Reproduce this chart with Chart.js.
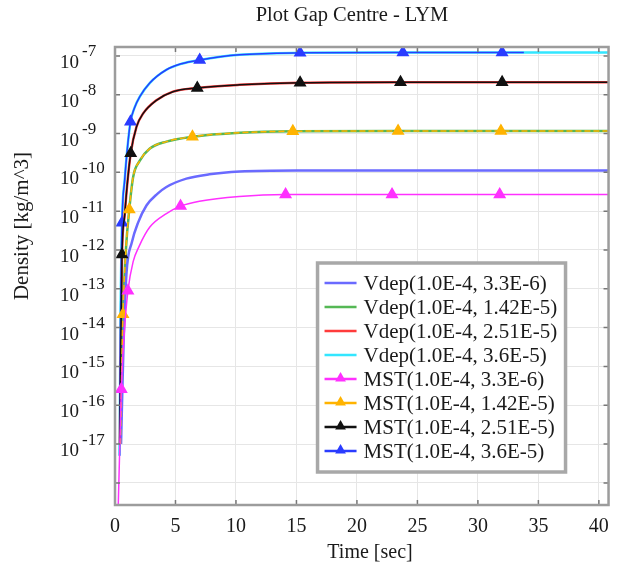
<!DOCTYPE html>
<html><head><meta charset="utf-8">
<script src="https://cdn.jsdelivr.net/npm/chart.js@4/dist/chart.umd.min.js"></script>
<style>html,body{margin:0;padding:0;background:#fff}#wrap{width:619px;height:568px}</style>
</head><body><div id="wrap"><canvas id="c" width="619" height="568"></canvas></div>
<script>
// ---------- text ----------
const titleText = 'Plot Gap Centre - LYM';
const xTitle = 'Time [sec]';
const yTitle = 'Density [kg/m^3]';
const xTicks = [0, 5, 10, 15, 20, 25, 30, 35, 40];
const yDecades = [-7, -8, -9, -10, -11, -12, -13, -14, -15, -16, -17, -18];
const yLabelled = [-7, -8, -9, -10, -11, -12, -13, -14, -15, -16, -17];
const labels = ['Vdep(1.0E-4, 3.3E-6)', 'Vdep(1.0E-4, 1.42E-5)', 'Vdep(1.0E-4, 2.51E-5)', 'Vdep(1.0E-4, 3.6E-5)',
                'MST(1.0E-4, 3.3E-6)', 'MST(1.0E-4, 1.42E-5)', 'MST(1.0E-4, 2.51E-5)', 'MST(1.0E-4, 3.6E-5)'];

// ---------- data (time [s], density [kg/m^3]) ----------
const tVdep33 = [0.5, 0.7, 0.95, 1.4, 1.9, 2.6, 3.5, 4.25, 5.9, 7.8, 10.3, 15, 25, 40.8];
const dVdep33 = [1e-17, 3.2e-15, 2.5e-13, 1.6e-12, 5.0e-12, 1.4e-11, 2.8e-11, 4.2e-11, 6.9e-11, 8.9e-11, 1.05e-10, 1.12e-10, 1.12e-10, 1.12e-10];

const tVdep142 = [0.45, 0.55, 0.66, 0.9, 1.18, 1.5, 2.05, 2.88, 4.25, 6.4, 10.3, 14.7, 23.4, 31.9, 40.8];
const dVdep142 = [1.0e-17, 6.3e-16, 2.2e-14, 1.0e-12, 1.1e-11, 7.6e-11, 2.0e-10, 4.1e-10, 6.2e-10, 8.3e-10, 1.05e-9, 1.15e-9, 1.17e-9, 1.17e-9, 1.17e-9];

const tVdep251 = [0.4, 0.48, 0.58, 0.8, 1.0, 1.3, 1.78, 2.33, 3.42, 4.79, 6.8, 10.3, 15.3, 23.6, 32.0, 40.8];
const dVdep251 = [1.0e-17, 3.2e-15, 7.6e-13, 7.9e-12, 4.5e-11, 3.1e-10, 1.5e-9, 3.3e-9, 7.2e-9, 1.2e-8, 1.5e-8, 1.8e-8, 2.04e-8, 2.1e-8, 2.1e-8, 2.1e-8];

const tVdep36 = [0.38, 0.45, 0.58, 0.8, 1.0, 1.28, 1.6, 2.05, 2.87, 4.25, 5.5, 7.0, 10.3, 15.3, 23.8, 32.0, 40.8];
const dVdep36 = [5.0e-18, 1.0e-14, 5.0e-12, 6.3e-11, 3.5e-10, 2.0e-9, 4.5e-9, 8.9e-9, 2.0e-8, 4.4e-8, 6.3e-8, 7.9e-8, 1.07e-7, 1.2e-7, 1.23e-7, 1.23e-7, 1.23e-7];

const tMst33 = [0.27, 0.4, 0.52, 0.8, 1.07, 1.5, 2.0, 2.88, 4.25, 5.42, 6.98, 10.27, 14.1, 22.9, 31.8, 40.8];
const dMst33 = [2.7e-19, 1e-17, 2.6e-16, 1e-14, 8.9e-14, 5.0e-13, 1.26e-12, 3.9e-12, 8.7e-12, 1.35e-11, 1.8e-11, 2.4e-11, 2.7e-11, 2.7e-11, 2.7e-11, 2.7e-11];

const tMst142 = tVdep142, dMst142 = dVdep142;
const tMst251 = tVdep251, dMst251 = dVdep251;
const tMst36 = [0.38, 0.45, 0.58, 0.8, 1.0, 1.28, 1.6, 2.05, 2.87, 4.25, 5.5, 7.0, 10.3, 15.3, 23.8, 32.0, 33.8];
const dMst36 = [5.0e-18, 1.0e-14, 5.0e-12, 6.3e-11, 3.5e-10, 2.0e-9, 4.5e-9, 8.9e-9, 2.0e-8, 4.4e-8, 6.3e-8, 7.9e-8, 1.07e-7, 1.2e-7, 1.23e-7, 1.23e-7, 1.23e-7];

// times at which MST markers are shown
const marks33 = [0.52, 1.07, 5.42, 14.1, 22.9, 31.8];
const marks142 = [0.66, 1.18, 6.4, 14.7, 23.4, 31.9];
const marks251 = [0.58, 1.3, 6.8, 15.3, 23.6, 32.0];
const marks36 = [0.58, 1.28, 7.0, 15.3, 23.8, 32.0];

// ---------- build ----------
const pts = (ts, ds) => ts.map((t, i) => ({x: t, y: ds[i]}));
const SERIF = '"Liberation Serif", "Times New Roman", serif';
const vdepColors = ['#6a6aff', '#55b855', '#ff3b3b', '#33e6ff'];
const mstColors = ['#ff30ff', '#ffb300', '#111111', '#2a3cff'];
const mstDash = [[], [6, 3], [], []];

function vdep(i, t, d) {
  return {label: labels[i], data: pts(t, d), showLine: true, borderColor: vdepColors[i], backgroundColor: vdepColors[i],
    borderWidth: 2.5, pointRadius: 0, cubicInterpolationMode: 'monotone', order: 2, kind: 'line'};
}
function mst(i, t, d, marks) {
  return {label: labels[4 + i], data: pts(t, d), showLine: true, borderColor: mstColors[i], backgroundColor: mstColors[i],
    borderWidth: 1.5, borderDash: mstDash[i], pointStyle: 'triangle', pointBorderWidth: 1.5,
    pointRadius: c => (c.raw && marks.includes(c.raw.x)) ? 6 : 0,
    cubicInterpolationMode: 'monotone', order: 1, kind: 'mst'};
}

const datasets = [
  vdep(0, tVdep33, dVdep33), vdep(1, tVdep142, dVdep142), vdep(2, tVdep251, dVdep251), vdep(3, tVdep36, dVdep36),
  mst(0, tMst33, dMst33, marks33), mst(1, tMst142, dMst142, marks142), mst(2, tMst251, dMst251, marks251), mst(3, tMst36, dMst36, marks36)
];

function tri(ctx, x, y, r) {
  ctx.beginPath();
  ctx.moveTo(x, y - r);
  ctx.lineTo(x + r * 0.9, y + r * 0.6);
  ctx.lineTo(x - r * 0.9, y + r * 0.6);
  ctx.closePath();
}

const framePlugin = {
  id: 'frame',
  afterDatasetsDraw(chart) {
    const {ctx, chartArea: a, scales: {x, y}} = chart;
    ctx.save();
    ctx.strokeStyle = '#777';
    ctx.lineWidth = 1.5;
    xTicks.forEach(v => {
      const px = x.getPixelForValue(v);
      ctx.beginPath();
      ctx.moveTo(px, a.bottom); ctx.lineTo(px, a.bottom - 5);
      ctx.moveTo(px, a.top); ctx.lineTo(px, a.top + 5);
      ctx.stroke();
    });
    yDecades.forEach(e => {
      const py = y.getPixelForValue(Math.pow(10, e));
      ctx.beginPath();
      ctx.moveTo(a.left, py); ctx.lineTo(a.left + 5, py);
      ctx.moveTo(a.right, py); ctx.lineTo(a.right - 5, py);
      ctx.stroke();
    });
    ctx.strokeStyle = '#9c9c9c';
    ctx.lineWidth = 2.5;
    ctx.strokeRect(a.left, a.top, a.right - a.left, a.bottom - a.top);
    ctx.restore();
  },
  afterDraw(chart) {
    const {ctx, chartArea: a, scales: {y}} = chart;
    ctx.save();
    ctx.fillStyle = '#1a1a1a';
    // title
    ctx.font = '20.5px ' + SERIF;
    ctx.textAlign = 'center';
    ctx.textBaseline = 'middle';
    ctx.fillText(titleText, 352, 16);
    // x title
    ctx.font = '20px ' + SERIF;
    ctx.fillText(xTitle, 370, 553);
    // y title
    ctx.save();
    ctx.translate(22, 226);
    ctx.rotate(-Math.PI / 2);
    ctx.font = '21px ' + SERIF;
    ctx.fillText(yTitle, 0, 0);
    ctx.restore();
    // y tick labels 10^n
    yLabelled.forEach(e => {
      const py = y.getPixelForValue(Math.pow(10, e));
      ctx.font = '19px ' + SERIF;
      ctx.textAlign = 'right';
      ctx.fillText('10', 79, py + 7);
      ctx.font = '17px ' + SERIF;
      ctx.textAlign = 'left';
      ctx.fillText(String(e), 82, py - 4);
    });
    // legend
    const L = a.right - 291, T = a.top + 216, W = 248, H = 209;
    ctx.fillStyle = '#ffffff';
    ctx.fillRect(L, T, W, H);
    ctx.strokeStyle = '#a8a8a8';
    ctx.lineWidth = 3.5;
    ctx.strokeRect(L, T, W, H);
    ctx.font = '21px ' + SERIF;
    ctx.textAlign = 'left';
    ctx.textBaseline = 'middle';
    chart.data.datasets.forEach((ds, i) => {
      const ry = T + 20 + i * 24;
      ctx.strokeStyle = ds.borderColor;
      ctx.lineWidth = 2.5;
      ctx.beginPath(); ctx.moveTo(L + 7, ry); ctx.lineTo(L + 39, ry); ctx.stroke();
      if (ds.kind === 'mst') {
        ctx.fillStyle = ds.backgroundColor;
        tri(ctx, L + 23, ry - 1, 6);
        ctx.fill();
      }
      ctx.fillStyle = '#1a1a1a';
      ctx.fillText(ds.label, L + 46, ry + 1);
    });
    ctx.restore();
  }
};

new Chart(document.getElementById('c'), {
  type: 'scatter',
  data: {datasets},
  plugins: [framePlugin],
  options: {
    responsive: false,
    devicePixelRatio: 1,
    animation: false,
    layout: {padding: {top: 47, right: 7, left: 0, bottom: 0}},
    plugins: {legend: {display: false}, tooltip: {enabled: false}, title: {display: false}},
    scales: {
      x: {
        type: 'linear', min: 0, max: 40.8,
        afterBuildTicks: s => { s.ticks = xTicks.map(v => ({value: v})); },
        afterFit: s => { s.height = 63; },
        grid: {color: '#e6e6e6', lineWidth: 1, drawTicks: false},
        border: {display: false},
        ticks: {font: {family: SERIF, size: 20}, color: '#1a1a1a', padding: 10, maxRotation: 0, autoSkip: false}
      },
      y: {
        type: 'logarithmic', min: Math.pow(10, -18.57), max: Math.pow(10, -6.77),
        afterBuildTicks: s => { s.ticks = yDecades.map(e => ({value: Math.pow(10, e)})); },
        afterFit: s => { s.width = 115; },
        grid: {color: '#e6e6e6', lineWidth: 1, drawTicks: false},
        border: {display: false},
        ticks: {callback: () => '', autoSkip: false}
      }
    }
  }
});
</script>
</body></html>
